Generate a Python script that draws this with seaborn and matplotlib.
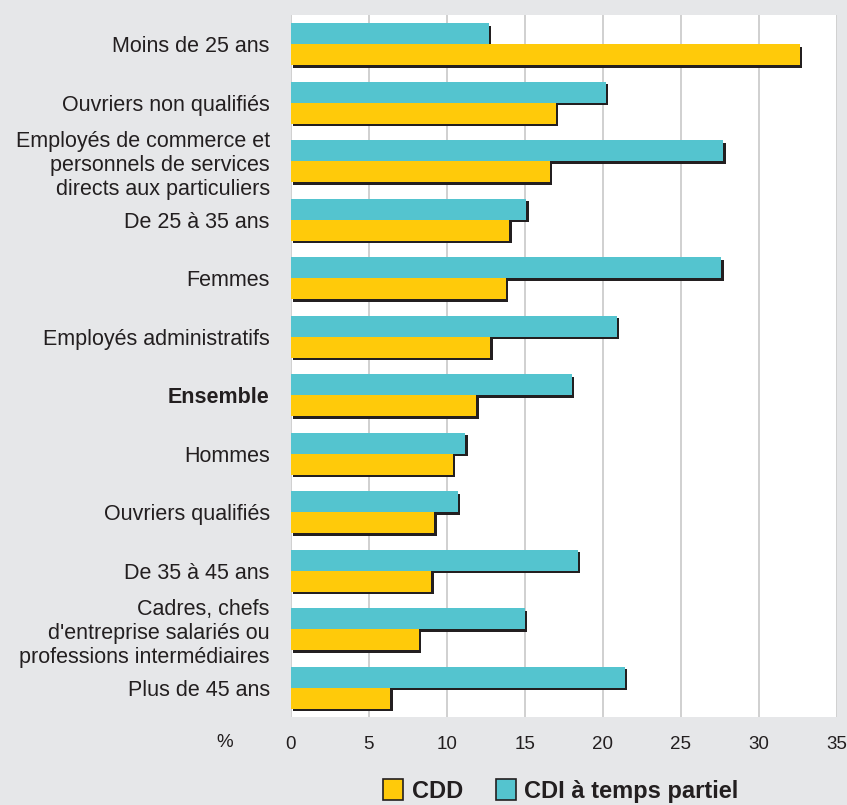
import pandas as pd
import numpy as np
import matplotlib.pyplot as plt
import matplotlib.patheffects as pe
from matplotlib.patches import Patch
import seaborn as sns

# données (%)
categories = ['Moins de 25 ans',
              'Ouvriers non qualifiés',
              'Employés de commerce et\npersonnels de services\ndirects aux particuliers',
              'De 25 à 35 ans',
              'Femmes',
              'Employés administratifs',
              'Ensemble',
              'Hommes',
              'Ouvriers qualifiés',
              'De 35 à 45 ans',
              "Cadres, chefs\nd'entreprise salariés ou\nprofessions intermédiaires",
              'Plus de 45 ans']
cdd = [32.6, 17.0, 16.6, 14.0, 13.8, 12.8, 11.9, 10.4, 9.2, 9.0, 8.2, 6.4]
cdi_partiel = [12.7, 20.2, 27.7, 15.1, 27.6, 20.9, 18.0, 11.2, 10.7, 18.4, 15.0, 21.4]
series = ['CDI à temps partiel', 'CDD']
ticks = [0, 5, 10, 15, 20, 25, 30, 35]

data = pd.DataFrame({'cat': categories, 'CDD': cdd, 'CDI à temps partiel': cdi_partiel})
data = data.melt(id_vars='cat', var_name='type', value_name='pct')

bg = '#e6e7e9'
colors = {'CDD': '#ffca0a', 'CDI à temps partiel': '#54c4cf'}
dark = '#231f20'

sns.set_style('white')
plt.rcParams['font.family'] = ['Liberation Sans', 'DejaVu Sans']

fig = plt.figure(figsize=(8.47, 8.05), dpi=100, facecolor=bg)
ax = fig.add_axes([290.5 / 847, 1 - 717 / 805, 546.5 / 847, 702 / 805])
ax.set_facecolor('white')

sns.barplot(data=data, y='cat', x='pct', hue='type', hue_order=series,
            palette=colors, width=0.72, orient='h', ax=ax, legend=False,
            saturation=1, linewidth=0, errorbar=None)

# ombre portée noire sous chaque barre
for p in ax.patches:
    p.set_path_effects([pe.SimplePatchShadow(offset=(1.8, -1.8), shadow_rgbFace=dark, alpha=1),
                        pe.Normal()])

ax.set_xlim(0, 35)
ax.set_xticks(ticks)
ax.set_xticklabels([str(t) for t in ticks])
ax.grid(axis='x', color='#c8c8c8', linewidth=1.2)
ax.set_axisbelow(True)
for s in ax.spines.values():
    s.set_visible(False)

ax.set_xlabel('')
ax.set_ylabel('')
ax.tick_params(axis='x', length=0, pad=14, labelsize=13.5, labelcolor='#231f20')
ax.tick_params(axis='y', length=0, pad=15, labelsize=15.5, labelcolor='#231f20')
for lab in ax.get_yticklabels():
    lab.set_linespacing(1.2)
    if lab.get_text() == 'Ensemble':
        lab.set_fontweight('bold')

fig.text(225 / 847, 1 - 742 / 805, '%', ha='center', va='center', fontsize=13.5, color='#231f20')

# légende en bas
handles = [Patch(facecolor=colors['CDD'], edgecolor=dark, linewidth=1.2, label='CDD'),
           Patch(facecolor=colors['CDI à temps partiel'], edgecolor=dark, linewidth=1.2,
                 label='CDI à temps partiel')]
fig.legend(handles=handles, loc='center', bbox_to_anchor=(561 / 847, 1 - 791 / 805), ncol=2,
           frameon=False, prop={'size': 17, 'weight': 'bold'}, handlelength=0.85,
           handleheight=0.95, handletextpad=0.35, columnspacing=1.4, labelcolor='#231f20',
           borderpad=0.1)

fig.savefig('out.png', dpi=100, facecolor=bg)
